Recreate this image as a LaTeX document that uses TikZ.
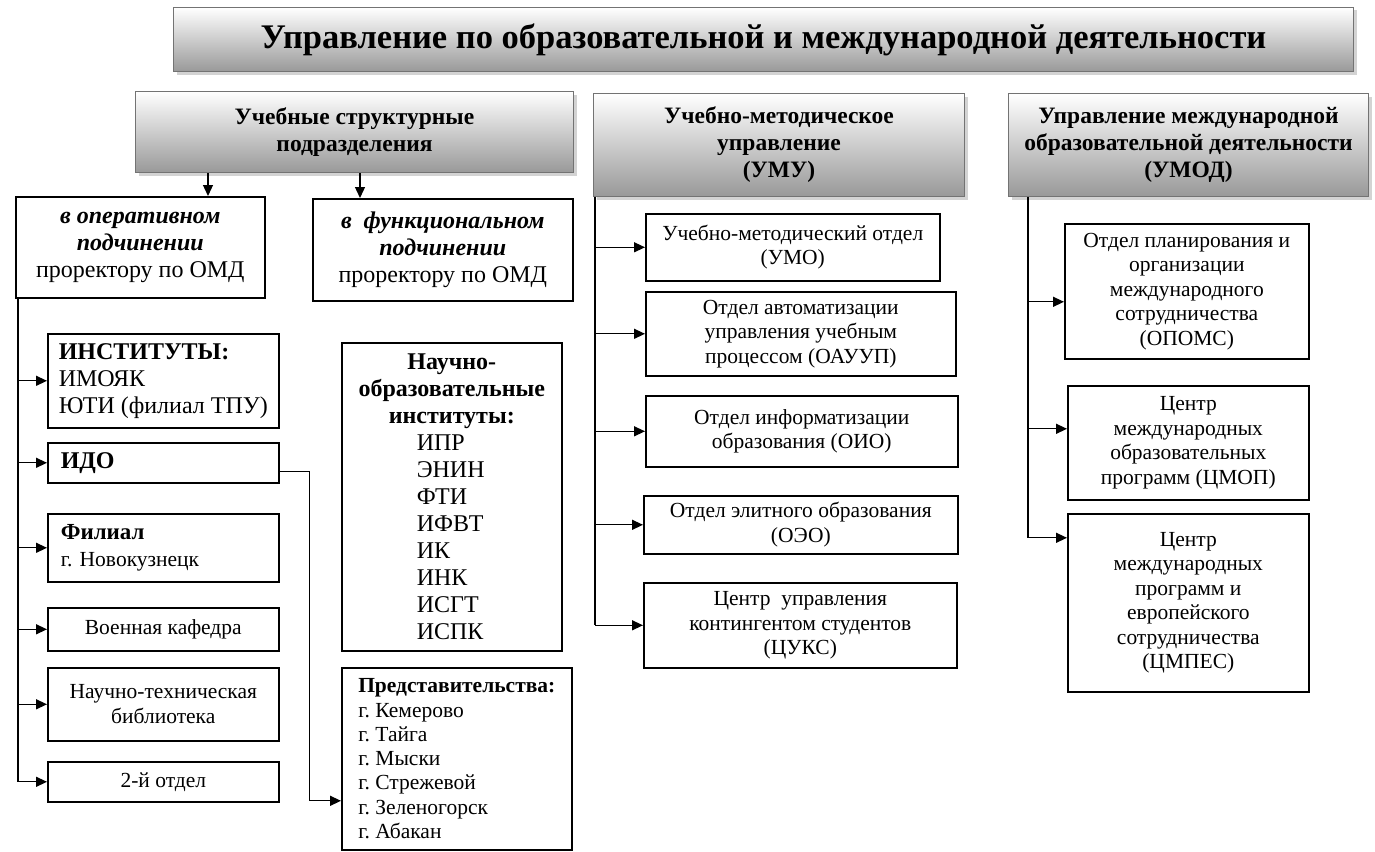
\documentclass[tikz,border=0pt]{standalone}
\usepackage{fontspec}
\setmainfont{Liberation Serif}
\usetikzlibrary{arrows.meta,shadows}
\frenchspacing

\begin{document}
\begin{tikzpicture}[x=1pt,y=-1pt,
	hdr/.style={draw=gray!90!black, line width=1pt, top color=white, bottom color=black!40,
		drop shadow={opacity=0.35,shadow xshift=3pt,shadow yshift=-3pt},
		anchor=north west, inner sep=0pt, align=center, font=\bfseries\fontsize{23.5}{27}\selectfont},
	box/.style={draw, line width=1.6pt, fill=white, anchor=north west, inner sep=0pt,
		align=center, font=\fontsize{21.5}{24.5}\selectfont},
	big/.style={font=\fontsize{24}{27}\selectfont},
	arr/.style={line width=1.3pt, -{Triangle[length=11pt,width=10pt]}},
	ln/.style={line width=1.3pt}]
	\useasboundingbox (0,0) rectangle (1375,851);

	\node[hdr, minimum width=1180pt, minimum height=64pt, font=\bfseries\fontsize{34.5}{40}\selectfont] (title) at (173,7)
		{Управление по образовательной и международной деятельности};

	\node[hdr, minimum width=438pt, minimum height=81pt] (hdr1) at (135,91) {Учебные структурные\\подразделения};
	\node[hdr, minimum width=371pt, minimum height=103pt] (hdr2) at (593,93) {Учебно-методическое\\управление\\(УМУ)};
	\node[hdr, minimum width=360pt, minimum height=103pt] (hdr3) at (1008,93) {Управление международной\\образовательной деятельности\\(УМОД)};

	\node[box, big, minimum width=249pt, minimum height=101pt] (oper) at (15,196)
		{\textbf{\textit{в оперативном}}\\\textbf{\textit{подчинении}}\\проректору по ОМД};
	\node[box, big, minimum width=260pt, minimum height=102pt] (func) at (312,198)
		{\textbf{\textit{в\ \ функциональном}}\\\textbf{\textit{подчинении}}\\проректору по ОМД};

	\node[box, big, minimum width=231pt, minimum height=94pt, align=left] (inst) at (47,333)
		{\textbf{ИНСТИТУТЫ:}\\ИМОЯК\\ЮТИ (филиал ТПУ)};
	\node[box, minimum width=231pt, minimum height=40pt, text width=205pt, align=left,
		font=\bfseries\fontsize{24}{27}\selectfont] (ido) at (47,442) {ИДО};
	\node[box, minimum width=231pt, minimum height=68pt, text width=205pt, align=left,
		font=\fontsize{21.5}{27}\selectfont] (fil) at (47,513)
		{{\fontsize{23}{27}\selectfont\bfseries Филиал}\\г. Новокузнецк};
	\node[box, minimum width=231pt, minimum height=43pt] (voen) at (47,607) {Военная кафедра};
	\node[box, minimum width=231pt, minimum height=73pt] (lib) at (47,667) {Научно-техническая\\библиотека};
	\node[box, minimum width=231pt, minimum height=40pt] (otd2) at (47,761) {2-й отдел};

	\node[box, big, minimum width=220pt, minimum height=308pt] (nii) at (341,342)
		{\textbf{Научно-}\\\textbf{образовательные}\\\textbf{институты:}\\
		\makebox[70pt][l]{ИПР}\\\makebox[70pt][l]{ЭНИН}\\\makebox[70pt][l]{ФТИ}\\\makebox[70pt][l]{ИФВТ}\\
		\makebox[70pt][l]{ИК}\\\makebox[70pt][l]{ИНК}\\\makebox[70pt][l]{ИСГТ}\\\makebox[70pt][l]{ИСПК}};
	\node[box, minimum width=230pt, minimum height=182pt, align=left, font=\fontsize{21.5}{24.3}\selectfont] (pred) at (341,667)
		{\textbf{Представительства:}\\г. Кемерово\\г. Тайга\\г. Мыски\\г. Стрежевой\\г. Зеленогорск\\г. Абакан};

	\node[box, minimum width=294pt, minimum height=67pt] (umo) at (645,213) {Учебно-методический отдел\\(УМО)};
	\node[box, minimum width=310pt, minimum height=84pt] (oauup) at (645,291) {Отдел автоматизации\\управления учебным\\процессом (ОАУУП)};
	\node[box, minimum width=312pt, minimum height=71pt] (oio) at (645,395) {Отдел информатизации\\образования (ОИО)};
	\node[box, minimum width=314pt, minimum height=58pt] (oeo) at (643,495) {Отдел элитного образования\\(ОЭО)};
	\node[box, minimum width=313pt, minimum height=85pt] (cuks) at (643,582) {Центр\ \ управления\\контингентом студентов\\(ЦУКС)};

	\node[box, minimum width=244pt, minimum height=135pt] (opoms) at (1064,223)
		{Отдел планирования и\\организации\\международного\\сотрудничества\\(ОПОМС)};
	\node[box, minimum width=241pt, minimum height=114pt] (cmop) at (1067,385)
		{Центр\\международных\\образовательных\\программ (ЦМОП)};
	\node[box, minimum width=241pt, minimum height=178pt] (cmpes) at (1067,513)
		{Центр\\международных\\программ и\\европейского\\сотрудничества\\(ЦМПЕС)};

	\draw[arr] ([xshift=73pt]hdr1.south west) -- ([xshift=193pt]oper.north west);
	\draw[arr] ([xshift=225pt]hdr1.south west) -- ([xshift=48pt]func.north west);

	\coordinate (t1) at ([xshift=3pt]oper.south west);
	\draw[ln] (t1) -- (t1 |- otd2.west);
	\foreach \n in {inst,ido,fil,voen,lib,otd2}
		\draw[arr] (t1 |- \n.west) -- (\n.west);
	\draw[arr] ([yshift=-9pt]ido.east) -- ++(30,0) |- ([yshift=-42pt]pred.west);

	\coordinate (t2) at ([xshift=2pt]hdr2.south west);
	\draw[ln] (t2) -- (t2 |- cuks.west);
	\foreach \n in {umo,oauup,oio,oeo,cuks}
		\draw[arr] (t2 |- \n.west) -- (\n.west);

	\coordinate (t3) at ([xshift=20pt]hdr3.south west);
	\foreach \n/\s in {opoms/-10.5,cmop/14,cmpes/65}
	{
		\coordinate (\n-in) at ([yshift=\s pt]\n.west);
		\draw[arr] (t3 |- \n-in) -- (\n-in);
	}
	\draw[ln] (t3) -- (t3 |- cmpes-in);
\end{tikzpicture}
\end{document}
